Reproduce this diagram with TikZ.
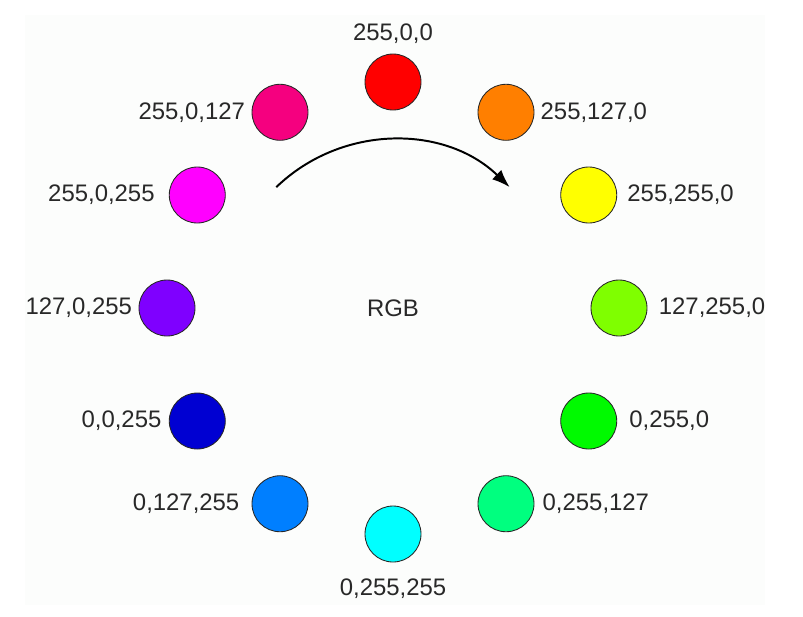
\documentclass[tikz,border=0pt]{standalone}
\usepackage{fontspec}
\setmainfont{Liberation Sans}
\usepackage{tikz}
\usetikzlibrary{positioning,arrows.meta}
\definecolor{bgpaper}{RGB}{252,253,252}
\definecolor{txtgray}{RGB}{40,40,40}
\definecolor{cred}{RGB}{255,0,0}
\definecolor{corange}{RGB}{255,127,0}
\definecolor{cyellow}{RGB}{255,255,0}
\definecolor{cchart}{RGB}{127,255,0}
\definecolor{cgreen}{RGB}{0,250,0}
\definecolor{cspring}{RGB}{0,255,127}
\definecolor{ccyan}{RGB}{0,255,255}
\definecolor{cazure}{RGB}{0,127,255}
\definecolor{cblue}{RGB}{0,0,210}
\definecolor{cviolet}{RGB}{127,0,255}
\definecolor{cmagenta}{RGB}{255,0,255}
\definecolor{crose}{RGB}{245,0,127}

\begin{document}
\begin{tikzpicture}[
  dot/.style={circle, draw=black!85, line width=0.6pt, minimum size=1.4cm, inner sep=0pt},
  txt/.style={inner sep=0pt, text=txtgray, font=\fontsize{17}{20}\selectfont}]
  \useasboundingbox (-9.825,-7.7) rectangle (10.25,7.7);
  \fill[bgpaper] (-9.2,-7.425) rectangle (9.3,7.325);
  \node[dot, fill=cred] (red) at (90:5.65) {};
  \node[dot, fill=corange] (orange) at (60:5.65) {};
  \node[dot, fill=cyellow] (yellow) at (30:5.65) {};
  \node[dot, fill=cchart] (chart) at (0:5.65) {};
  \node[dot, fill=cgreen] (green) at (-30:5.65) {};
  \node[dot, fill=cspring] (spring) at (-60:5.65) {};
  \node[dot, fill=ccyan] (cyan) at (-90:5.65) {};
  \node[dot, fill=cazure] (azure) at (-120:5.65) {};
  \node[dot, fill=cblue] (blue) at (-150:5.65) {};
  \node[dot, fill=cviolet] (violet) at (180:5.65) {};
  \node[dot, fill=cmagenta] (magenta) at (150:5.65) {};
  \node[dot, fill=crose] (rose) at (120:5.65) {};
  \node[txt, above=0.25cm of red] (lred) {255,0,0};
  \node[txt, right=0.15cm of orange] (lorange) {255,127,0};
  \node[txt, right=0.25cm of yellow] (lyellow) {255,255,0};
  \node[txt, right=0.28cm of chart] (lchart) {127,255,0};
  \node[txt, right=0.3cm of green] (lgreen) {0,255,0};
  \node[txt, right=0.2cm of spring] (lspring) {0,255,127};
  \node[txt, below=0.4cm of cyan] (lcyan) {0,255,255};
  \node[txt, left=0.3cm of azure] (lazure) {0,127,255};
  \node[txt, left=0.18cm of blue] (lblue) {0,0,255};
  \node[txt, left=0.16cm of violet] (lviolet) {127,0,255};
  \node[txt, left=0.35cm of magenta] (lmagenta) {255,0,255};
  \node[txt, left=0.16cm of rose] (lrose) {255,0,127};
  \node[txt] (rgb) at (0,0) {RGB};
  \coordinate (arcstart) at (134:4.2);
  \draw[line width=1.4pt, -{Latex[length=0.45cm, width=0.33cm]}] (arcstart) arc[start angle=134, end angle=46, radius=4.2];
\end{tikzpicture}
\end{document}
